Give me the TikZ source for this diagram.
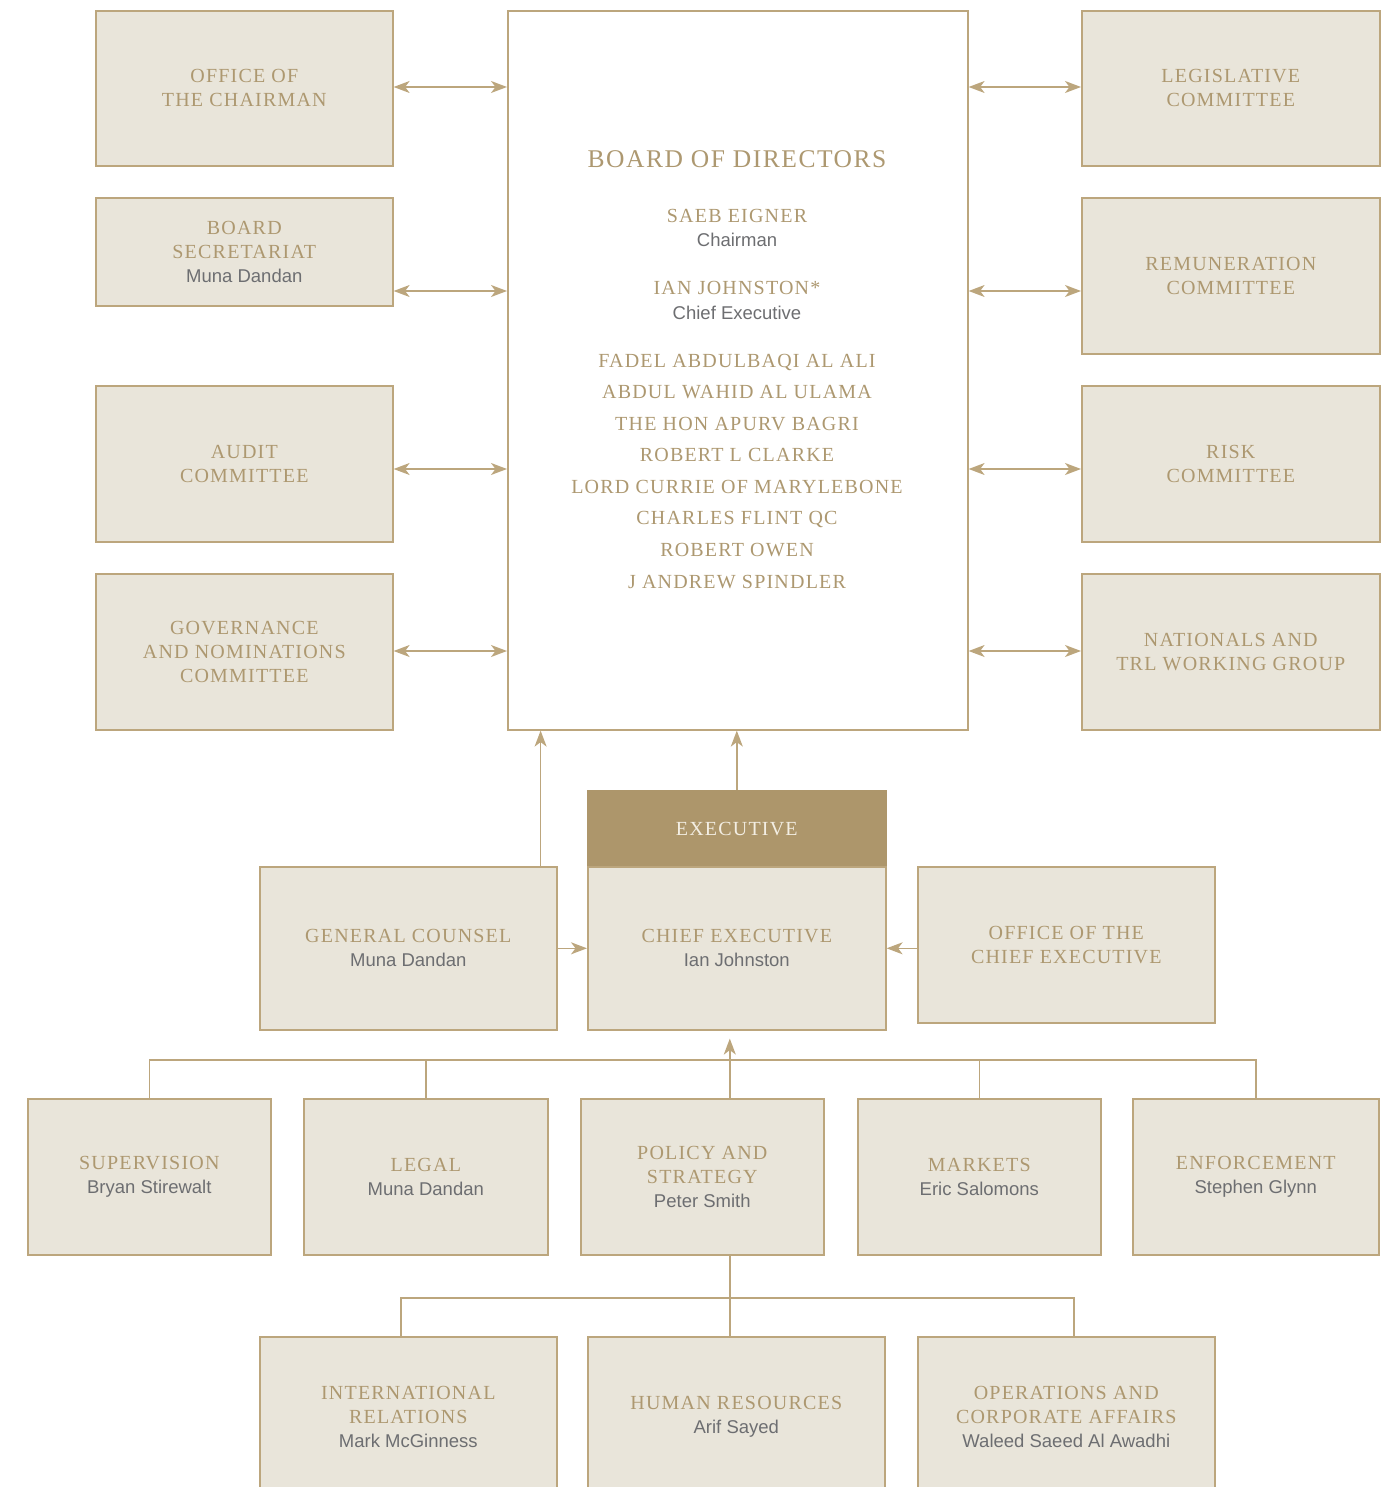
\documentclass[tikz,border=0pt]{standalone}
\usepackage{fontspec}
\setmainfont{Liberation Serif}
\newfontfamily\capsfnt[LetterSpace=6]{Liberation Serif}
\newfontfamily\namefnt{Liberation Sans}
\usetikzlibrary{arrows.meta}
\definecolor{gold}{HTML}{AD9870}
\definecolor{bord}{HTML}{BCA67D}
\definecolor{boxfill}{HTML}{E9E5DA}
\definecolor{execfill}{HTML}{AD966B}
\definecolor{greytxt}{HTML}{6D6E71}
\definecolor{lightt}{HTML}{F3EEE3}
\newcommand{\nm}[1]{{\namefnt\fontsize{18.5}{24}\selectfont\color{greytxt}#1}}
\begin{document}
\begin{tikzpicture}[x=1pt,y=-1pt,
  box/.style={draw=bord, fill=boxfill, line width=1.6pt, anchor=north west, inner sep=0pt,
    align=center, text=gold, font=\capsfnt\fontsize{20}{24}\selectfont},
  ttl/.style={inner sep=0pt, text=gold, text height=13.5pt, text depth=0pt, font=\capsfnt\fontsize{20}{24}\selectfont},
  sub/.style={inner sep=0pt, text=greytxt, text height=13.5pt, text depth=0pt, font=\namefnt\fontsize{18.5}{24}\selectfont},
  link/.style={draw=bord, line width=1.5pt},
  biarrow/.style={link, {Stealth[length=16pt,width=12pt,inset=4.5pt]}-{Stealth[length=16pt,width=12pt,inset=4.5pt]}},
  onearrow/.style={link, -{Stealth[length=16pt,width=12pt,inset=4.5pt]}}]
\useasboundingbox (0,0) rectangle (1397,1487);
% left column
\node[box, minimum width=297pt, minimum height=155pt] (ch) at (95,10) {OFFICE OF\\THE CHAIRMAN};
\node[box, minimum width=297pt, minimum height=108pt] (bs) at (95,197) {BOARD\\SECRETARIAT\\\nm{Muna Dandan}};
\node[box, minimum width=297pt, minimum height=156pt] (au) at (95,385) {AUDIT\\COMMITTEE};
\node[box, minimum width=297pt, minimum height=156pt] (gn) at (95,573) {GOVERNANCE\\AND NOMINATIONS\\COMMITTEE};
% board
\node[box, fill=white, minimum width=460pt, minimum height=719pt] (bd) at (507,10) {};
\node[ttl, text height=17pt, font=\capsfnt\fontsize{25.5}{30}\selectfont] (bdt) at (737,159) {BOARD OF DIRECTORS};
\node[ttl] (m1) at (737,216) {SAEB EIGNER};
\node[sub] (m1r) at (737,240) {Chairman};
\node[ttl] (m2) at (737,288) {IAN JOHNSTON*};
\node[sub] (m2r) at (737,313) {Chief Executive};
\node[ttl] (m3) at (737,361) {FADEL ABDULBAQI AL ALI};
\node[ttl] (m4) at (737,392) {ABDUL WAHID AL ULAMA};
\node[ttl] (m5) at (737,424) {THE HON APURV BAGRI};
\node[ttl] (m6) at (737,455) {ROBERT L CLARKE};
\node[ttl] (m7) at (737,487) {LORD CURRIE OF MARYLEBONE};
\node[ttl] (m8) at (737,518) {CHARLES FLINT QC};
\node[ttl] (m9) at (737,550) {ROBERT OWEN};
\node[ttl] (m10) at (737,582) {J ANDREW SPINDLER};
% right column
\node[box, minimum width=298pt, minimum height=155pt] (lg) at (1081,10) {LEGISLATIVE\\COMMITTEE};
\node[box, minimum width=298pt, minimum height=156pt] (rm) at (1081,197) {REMUNERATION\\COMMITTEE};
\node[box, minimum width=298pt, minimum height=156pt] (rk) at (1081,385) {RISK\\COMMITTEE};
\node[box, minimum width=298pt, minimum height=156pt] (nt) at (1081,573) {NATIONALS AND\\TRL WORKING GROUP};
% arrow rows
\coordinate (r1) at (0,87);
\coordinate (r2) at (0,291);
\coordinate (r3) at (0,469);
\coordinate (r4) at (0,651);
\draw[biarrow] (ch.east |- r1) -- (bd.west |- r1);
\draw[biarrow] (bs.east |- r2) -- (bd.west |- r2);
\draw[biarrow] (au.east |- r3) -- (bd.west |- r3);
\draw[biarrow] (gn.east |- r4) -- (bd.west |- r4);
\draw[biarrow] (bd.east |- r1) -- (lg.west |- r1);
\draw[biarrow] (bd.east |- r2) -- (rm.west |- r2);
\draw[biarrow] (bd.east |- r3) -- (rk.west |- r3);
\draw[biarrow] (bd.east |- r4) -- (nt.west |- r4);
% executive
\node[box, fill=execfill, draw=execfill, minimum width=298pt, minimum height=76pt, text=lightt] (ex) at (587,790) {EXECUTIVE};
\node[box, minimum width=298pt, minimum height=163pt] (ce) at (587,866) {CHIEF EXECUTIVE\\\nm{Ian Johnston}};
\node[box, minimum width=297pt, minimum height=163pt] (gc) at (259,866) {GENERAL COUNSEL\\\nm{Muna Dandan}};
\node[box, minimum width=297pt, minimum height=156pt] (oc) at (917,866) {OFFICE OF THE\\CHIEF EXECUTIVE};
\coordinate (gcup) at ([xshift=-17pt]gc.north east);
\draw[onearrow] (gcup) -- (bd.south -| gcup);
\draw[onearrow] (ex.north) -- (bd.south -| ex.north);
\draw[onearrow] (gc.east) -- (ce.west);
\draw[onearrow] (oc.west |- ce.east) -- (ce.east);
% departments
\node[box, minimum width=243pt, minimum height=156pt] (sv) at (27,1098) {SUPERVISION\\\nm{Bryan Stirewalt}};
\node[box, minimum width=244pt, minimum height=156pt] (lgl) at (303,1098) {LEGAL\\\nm{Muna Dandan}};
\node[box, minimum width=243pt, minimum height=156pt] (ps) at (580,1098) {POLICY AND\\STRATEGY\\\nm{Peter Smith}};
\node[box, minimum width=243pt, minimum height=156pt] (mk) at (857,1098) {MARKETS\\\nm{Eric Salomons}};
\node[box, minimum width=246pt, minimum height=156pt] (en) at (1132,1098) {ENFORCEMENT\\\nm{Stephen Glynn}};
\coordinate (b1) at (0,1060);
\draw[link] (sv.north) -- (sv.north |- b1) -- (en.north |- b1) -- (en.north);
\draw[link] (lgl.north) -- (lgl.north |- b1);
\draw[link] (mk.north) -- (mk.north |- b1);
\coordinate (psup) at ([xshift=27.5pt]ps.north);
\coordinate (psdn) at ([xshift=27.5pt]ps.south);
\draw[onearrow] (psup) -- ([xshift=-7pt,yshift=-8pt]ce.south);
% bottom row
\node[box, minimum width=297pt, minimum height=160pt] (ir) at (259,1336) {INTERNATIONAL\\RELATIONS\\\nm{Mark McGinness}};
\node[box, minimum width=297pt, minimum height=160pt] (hr) at (587,1336) {HUMAN RESOURCES\\\nm{Arif Sayed}};
\node[box, minimum width=297pt, minimum height=160pt] (op) at (917,1336) {OPERATIONS AND\\CORPORATE AFFAIRS\\\nm{Waleed Saeed Al Awadhi}};
\coordinate (b3) at (0,1298);
\coordinate (irup) at ([xshift=-7.5pt]ir.north);
\coordinate (opup) at ([xshift=7.5pt]op.north);
\draw[link] (psdn) -- (hr.north -| psdn);
\draw[link] (irup) |- (opup |- b3) -- (opup);
\end{tikzpicture}
\end{document}
